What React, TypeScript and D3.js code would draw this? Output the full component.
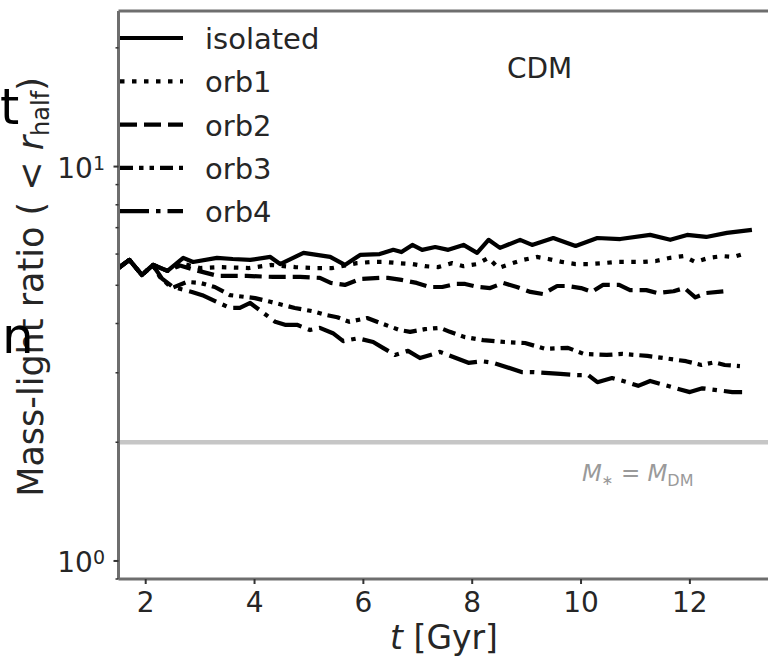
import * as d3 from 'd3';

// [t in Gyr, mass-light ratio within r_half]
const isolated: [number, number][] = [
  [1.5, 5.53], [1.7, 5.8], [1.93, 5.31], [2.14, 5.63], [2.4, 5.44], [2.69, 5.87], [2.87, 5.73],
  [3.31, 5.87], [3.6, 5.83], [3.92, 5.8], [4.29, 5.9], [4.47, 5.66], [4.9, 6.04], [5.39, 5.9],
  [5.66, 5.63], [5.94, 5.97], [6.3, 6.0], [6.55, 6.15], [6.7, 6.07], [6.9, 6.33], [7.08, 6.15],
  [7.32, 6.25], [7.56, 6.15], [7.84, 6.33], [8.09, 6.04], [8.3, 6.52], [8.51, 6.22], [8.88, 6.52],
  [9.1, 6.33], [9.49, 6.59], [9.9, 6.29], [10.3, 6.59], [10.72, 6.55], [11.27, 6.71], [11.64, 6.52],
  [11.95, 6.71], [12.3, 6.63], [12.68, 6.79], [13.14, 6.91],
];

const orb1: [number, number][] = [
  [1.5, 5.53], [1.7, 5.8], [1.93, 5.31], [2.14, 5.63], [2.4, 5.44], [2.7, 5.66], [3.0, 5.53],
  [3.33, 5.56], [3.9, 5.53], [4.3, 5.63], [4.75, 5.56], [5.1, 5.53], [5.43, 5.53], [5.88, 5.69],
  [6.16, 5.73], [6.4, 5.73], [6.64, 5.69], [6.9, 5.66], [7.13, 5.59], [7.37, 5.56], [7.63, 5.69],
  [7.84, 5.59], [8.09, 5.66], [8.3, 5.87], [8.48, 5.53], [8.74, 5.69], [8.94, 5.8], [9.19, 5.9],
  [9.4, 5.83], [9.65, 5.73], [9.9, 5.66], [10.14, 5.66], [10.4, 5.69], [10.63, 5.73], [10.87, 5.73],
  [11.13, 5.73], [11.37, 5.76], [11.64, 5.87], [11.88, 5.93], [12.1, 5.73], [12.35, 5.87],
  [12.6, 5.93], [12.8, 5.9], [13.05, 6.04],
];

const orb2: [number, number][] = [
  [1.5, 5.53], [1.7, 5.8], [1.93, 5.31], [2.14, 5.63], [2.4, 5.44], [2.6, 5.63], [2.9, 5.47],
  [3.33, 5.28], [3.86, 5.28], [4.34, 5.25], [4.84, 5.25], [5.2, 5.22], [5.4, 5.07], [5.66, 5.01],
  [5.94, 5.19], [6.3, 5.22], [6.45, 5.22], [6.7, 5.16], [6.98, 5.07], [7.22, 4.95], [7.45, 4.95],
  [7.69, 5.04], [7.87, 5.04], [8.11, 4.95], [8.33, 4.92], [8.57, 5.07], [8.82, 4.95], [9.07, 4.81],
  [9.3, 4.75], [9.56, 4.98], [9.75, 4.98], [10.0, 4.92], [10.2, 4.81], [10.4, 5.01], [10.7, 5.01],
  [10.9, 4.86], [11.2, 4.86], [11.4, 4.78], [11.7, 4.83], [11.9, 4.92], [12.1, 4.66], [12.3, 4.78],
  [12.64, 4.83],
];

const orb3: [number, number][] = [
  [1.5, 5.53], [1.7, 5.8], [1.93, 5.31], [2.13, 5.63], [2.26, 5.25], [2.48, 4.92], [2.76, 5.1],
  [3.0, 5.07], [3.27, 4.95], [3.55, 4.72], [4.01, 4.64], [4.29, 4.54], [4.74, 4.38], [5.06, 4.3],
  [5.33, 4.2], [5.52, 4.15], [5.74, 4.04], [6.07, 4.13], [6.4, 3.97], [6.67, 3.85], [6.86, 3.81],
  [7.13, 3.87], [7.41, 3.9], [7.59, 3.81], [7.85, 3.7], [8.2, 3.63], [8.6, 3.59], [8.97, 3.57],
  [9.34, 3.45], [9.76, 3.47], [10.05, 3.35], [10.47, 3.33], [10.76, 3.35], [11.22, 3.31],
  [11.51, 3.27], [11.93, 3.21], [12.21, 3.14], [12.45, 3.19], [12.64, 3.14], [12.92, 3.12],
];

const orb4: [number, number][] = [
  [1.5, 5.53], [1.7, 5.8], [1.93, 5.31], [2.13, 5.63], [2.3, 5.2], [2.5, 4.95], [2.85, 4.81],
  [3.04, 4.72], [3.55, 4.38], [3.73, 4.38], [3.92, 4.51], [4.38, 4.04], [4.56, 3.97], [4.78, 3.97],
  [5.02, 3.85], [5.2, 3.9], [5.44, 3.78], [5.63, 3.61], [5.9, 3.67], [6.18, 3.59], [6.36, 3.47],
  [6.58, 3.33], [6.82, 3.41], [7.04, 3.27], [7.23, 3.33], [7.41, 3.39], [7.93, 3.18], [8.18, 3.21],
  [8.39, 3.18], [8.92, 3.01], [9.14, 3.01], [9.62, 2.98], [9.93, 2.96], [10.13, 2.96], [10.3, 2.84],
  [10.57, 2.91], [10.85, 2.84], [11.05, 2.78], [11.27, 2.86], [11.79, 2.73], [12.0, 2.68],
  [12.23, 2.74], [12.78, 2.68], [12.96, 2.68],
];

const seriesNames = ['isolated', 'orb1', 'orb2', 'orb3', 'orb4'];
const seriesData = [isolated, orb1, orb2, orb3, orb4];
const dashes = ['none', '4.5 7.5', '17 7', '13 6 4.5 6 4.5 6', '29 7 4.5 7'];

const equalMassRatio = 2;
const xTicks = [2, 4, 6, 8, 10, 12];

const W = 768;
const H = 656;
const FONT = 'DejaVu Sans, sans-serif';

export default function App() {
  const x = d3.scaleLinear().domain([1.5, 13.5]).range([118.5, 771.5]);
  const y = d3.scaleLog().domain([0.9, 24.8]).range([579, 11]);

  const line = d3
    .line<[number, number]>()
    .x((d) => x(d[0]))
    .y((d) => y(d[1]));

  const left = x.range()[0];
  const bottom = y.range()[0];
  const top = y.range()[1];

  const yAll = y.ticks();
  const yMajor = yAll.filter((v) => Math.abs(Math.log10(v) - Math.round(Math.log10(v))) < 1e-9);
  const yMinor = yAll.filter((v) => !yMajor.includes(v));

  return (
    <svg
      width={W}
      height={H}
      style={{ position: 'absolute', left: 0, top: 0, background: '#fff' }}
      fontFamily={FONT}
    >
      {/* M* = M_DM reference */}
      <line
        x1={left}
        x2={W}
        y1={y(equalMassRatio)}
        y2={y(equalMassRatio)}
        stroke="#c6c6c6"
        strokeWidth={4.5}
      />
      <text x={582} y={481} fill="#9a9a9a" fontSize={23}>
        <tspan fontStyle="italic">M</tspan>
        <tspan fontSize={14} dy={4}>∗</tspan>
        <tspan dy={-4}> = </tspan>
        <tspan fontStyle="italic">M</tspan>
        <tspan fontSize={16} dy={5}>DM</tspan>
      </text>

      {seriesData.map((d, i) => (
        <path
          key={seriesNames[i]}
          d={line(d) || ''}
          fill="none"
          stroke="#000"
          strokeWidth={4.2}
          strokeLinejoin="round"
          strokeDasharray={dashes[i]}
        />
      ))}

      {/* spines */}
      <line x1={left} x2={left} y1={top} y2={bottom} stroke="#6e6e6e" strokeWidth={3} />
      <line x1={left} x2={W} y1={top} y2={top} stroke="#6e6e6e" strokeWidth={3} />
      <line x1={left} x2={W} y1={bottom} y2={bottom} stroke="#6e6e6e" strokeWidth={3} />

      {/* x ticks */}
      {xTicks.map((t) => (
        <g key={t}>
          <line x1={x(t)} x2={x(t)} y1={bottom} y2={bottom + 5} stroke="#333" strokeWidth={2} />
          <text x={x(t)} y={612} textAnchor="middle" fontSize={28} fill="#262626">
            {t}
          </text>
        </g>
      ))}

      {/* y ticks */}
      {yMinor.map((v) => (
        <line key={v} x1={left - 3} x2={left} y1={y(v)} y2={y(v)} stroke="#333" strokeWidth={1.5} />
      ))}
      {yMajor.map((v) => (
        <g key={v}>
          <line x1={left - 5} x2={left} y1={y(v)} y2={y(v)} stroke="#333" strokeWidth={2} />
          <text x={105} y={y(v) + 11.5} textAnchor="end" fontSize={28} fill="#262626">
            10
            <tspan fontSize={19} dy={-8}>
              {Math.round(Math.log10(v))}
            </tspan>
          </text>
        </g>
      ))}

      {/* legend */}
      {seriesNames.map((name, i) => {
        const ly = 38 + i * 43.3;
        return (
          <g key={name}>
            <line
              x1={120}
              x2={183}
              y1={ly}
              y2={ly}
              stroke="#000"
              strokeWidth={4.2}
              strokeDasharray={dashes[i]}
            />
            <text x={205} y={ly + 11} fontSize={29} fill="#262626">
              {name}
            </text>
          </g>
        );
      })}

      <text x={507} y={78} fontSize={28} fill="#262626">
        CDM
      </text>

      {/* axis labels */}
      <text x={444} y={649} textAnchor="middle" fontSize={33} fill="#262626">
        <tspan fontStyle="italic">t</tspan> [Gyr]
      </text>
      <text
        transform="translate(43,287) rotate(-90)"
        textAnchor="middle"
        fontSize={35}
        fill="#262626"
      >
        Mass-light ratio ( &lt; <tspan fontStyle="italic">r</tspan>
        <tspan fontSize={24} dy={6}>half</tspan>
        <tspan dy={-6}>)</tspan>
      </text>

      {/* stray glyphs from neighbouring panel */}
      <text x={0} y={124} fontSize={49} fill="#000">
        t
      </text>
      <text x={2} y={353} fontSize={50} fill="#000">
        n
      </text>
    </svg>
  );
}
